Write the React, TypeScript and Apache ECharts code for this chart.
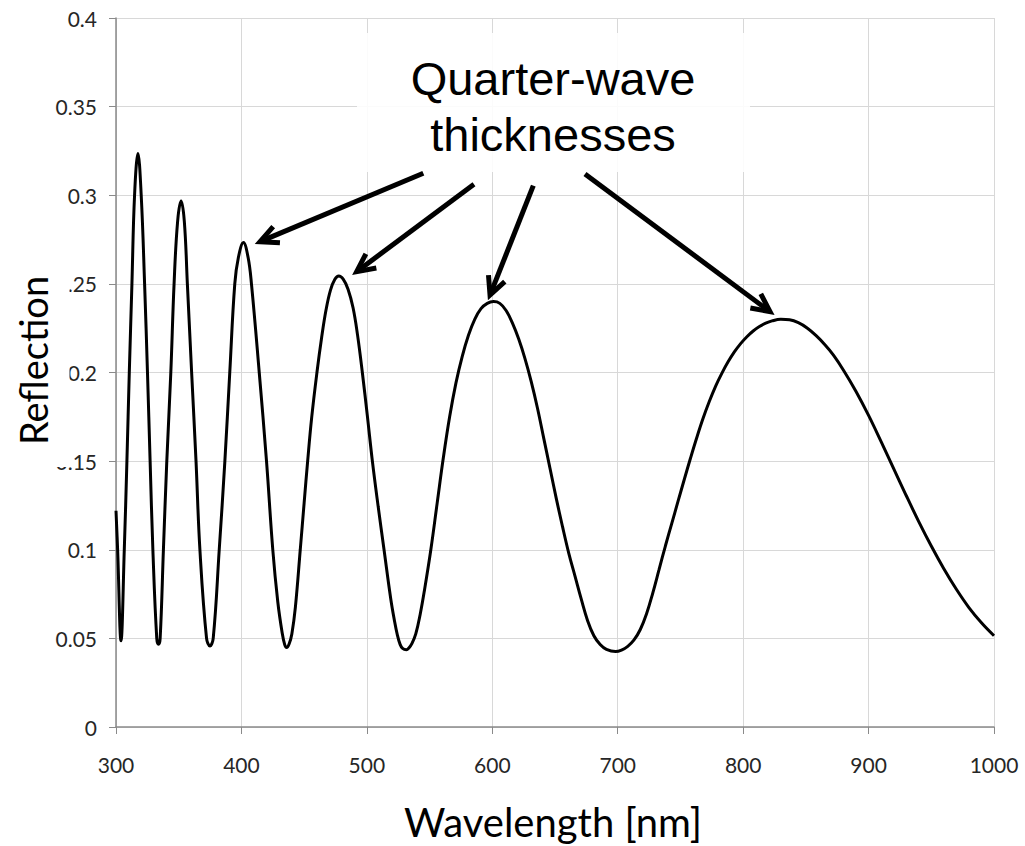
import React, { useEffect, useRef } from "react";
import * as echarts from "echarts";

// Wavelength [nm] and reflection
const wavelength = [
  300, 301.3, 304, 306.6, 308.7, 310.6, 312.7, 314.8, 317.5, 320.1, 322.8, 325.1, 327.2, 329.4, 332.5,
  333.9, 335.2, 337.8, 340.5, 343.7, 346.3, 349.1, 351.9, 354.5, 356.9, 360.3, 363.8, 366.9, 372.2,
  374.9, 377.5, 382.3, 386.8, 390.7, 394.7, 397.6, 401.6, 405.3, 408.0, 414.2, 420.0, 425.0, 429, 432.5, 434.5,
  436.0, 438, 440.2, 443, 446.9, 450, 452.8, 456, 460.2, 464, 467.5, 471, 474.5, 477.6,
  481, 485, 489, 492.5, 496.4, 500.4, 504.4, 509, 513.7, 519, 522, 524.3, 526.5, 528.5,
  531.5, 533.5, 536, 539, 542.5, 546, 551, 556, 561, 566, 571, 576, 581, 586, 591, 596, 601,
  606, 611, 616, 621, 626, 631, 636, 641, 646, 651, 656, 661, 666, 671, 676, 681, 686, 691,
  698.3, 703, 708, 713, 718, 723, 728, 733, 738, 743, 748, 753, 758, 763, 768, 773, 778,
  783, 788, 793, 798, 803, 808, 813, 818, 823, 830, 837, 844, 851, 858, 865, 872, 880,
  890, 900, 910, 920, 930, 940, 950, 960, 970, 980, 990, 1000,
];
const reflection = [
  0.122, 0.1, 0.0486, 0.1, 0.15, 0.2, 0.25, 0.3, 0.3235, 0.3, 0.25, 0.2, 0.15, 0.1, 0.05,
  0.0467, 0.05, 0.1, 0.15, 0.2, 0.25, 0.285, 0.2967, 0.285, 0.25, 0.2, 0.15, 0.1, 0.05,
  0.0457, 0.05, 0.1, 0.15, 0.2, 0.25, 0.265, 0.2733, 0.265, 0.25, 0.2, 0.15, 0.1, 0.0705, 0.053, 0.0465,
  0.0448, 0.0468, 0.0525, 0.0675, 0.1, 0.1265, 0.15, 0.1745, 0.2, 0.22, 0.2355, 0.2465, 0.2526, 0.2545,
  0.2528, 0.247, 0.2365, 0.2215, 0.2, 0.1755, 0.15, 0.1245, 0.1, 0.0725, 0.06, 0.052, 0.0466, 0.0443,
  0.0436, 0.0446, 0.0472, 0.0525, 0.0635, 0.0775, 0.1, 0.126, 0.152, 0.175, 0.194, 0.209, 0.221, 0.23, 0.236, 0.239, 0.24,
  0.239, 0.235, 0.228, 0.219, 0.208, 0.195, 0.18, 0.163, 0.146, 0.129, 0.113, 0.098, 0.085, 0.072, 0.06, 0.0515, 0.0465, 0.0438,
  0.0426, 0.0434, 0.0455, 0.0491, 0.055, 0.0639, 0.0757, 0.0889, 0.1021, 0.1146, 0.1271, 0.1395, 0.1516, 0.1632, 0.174, 0.1836, 0.1922,
  0.1995, 0.206, 0.2116, 0.2163, 0.2202, 0.2234, 0.2259, 0.2278, 0.2291, 0.23, 0.2297, 0.2281, 0.2251, 0.2209, 0.2158, 0.2098, 0.2013,
  0.1893, 0.1758, 0.161, 0.1458, 0.1306, 0.1159, 0.1021, 0.0893, 0.0777, 0.0674, 0.0588, 0.0515,
];

// Axis ranges / ticks
const xMin = 300, xMax = 1000, xStep = 100;
const yMin = 0, yMax = 0.4, yStep = 0.05;

// Annotation arrows (data coordinates): tail -> head
const arrowTails = [[545.0, 0.3124], [585.4, 0.3062], [632.7, 0.3054], [673.9, 0.312]];
const arrowHeads = [[414.8, 0.2738], [491.9, 0.2569], [598.2, 0.2437], [821.4, 0.2343]];
const annotationLines = ["Quarter-wave", "thicknesses"];
const xTitle = "Wavelength [nm]";
const yTitle = "Reflection";

export default function App() {
  const ref = useRef<HTMLDivElement>(null);
  useEffect(() => {
    const chart = echarts.init(ref.current!, null, { renderer: "svg" });
    const axisGray = "#8a8a8a";
    const gridGray = "#d8d8d8";
    const labelFont = { fontFamily: "Lato", fontSize: 21, color: "#262626" };
    chart.setOption({
      animation: false,
      grid: { left: 116, right: 31, top: 18, bottom: 119, containLabel: false },
      xAxis: {
        type: "value",
        min: xMin,
        max: xMax,
        interval: xStep,
        axisLine: { show: true, lineStyle: { color: axisGray, width: 1.5 } },
        axisTick: { show: true, length: 7, lineStyle: { color: axisGray } },
        axisLabel: { ...labelFont, margin: 27, formatter: (v: number) => String(v) },
        splitLine: { show: true, lineStyle: { color: gridGray, width: 1 } },
      },
      yAxis: {
        type: "value",
        min: yMin,
        max: yMax,
        interval: yStep,
        axisLine: { show: true, lineStyle: { color: axisGray, width: 1.5 } },
        axisTick: { show: true, length: 7, lineStyle: { color: axisGray } },
        axisLabel: { ...labelFont, margin: 19 },
        splitLine: { show: true, lineStyle: { color: gridGray, width: 1 } },
      },
      series: [
        {
          type: "line",
          data: wavelength.map((x, i) => [x, reflection[i]]),
          showSymbol: false,
          smooth: 0.4,
          lineStyle: { color: "#000", width: 3 },
          z: 3,
        },
      ],
    });

    const graphics: any[] = [];
    // Annotation box with text
    graphics.push({
      type: "rect",
      shape: { x: 357, y: 33, width: 393, height: 139 },
      style: { fill: "rgba(255,255,255,0.88)" },
      z: 50,
    });
    annotationLines.forEach((t, i) => {
      graphics.push({
        type: "text",
        x: 553,
        y: 78 + i * 56.7,
        style: {
          text: t,
          fontFamily: "Liberation Sans",
          fontSize: 47,
          fill: "#000",
          align: "center",
          verticalAlign: "middle",
        },
        z: 51,
      });
    });
    // Arrows
    const armLen = 20;
    const armAng = (26 * Math.PI) / 180;
    arrowTails.forEach((tail, i) => {
      const p0 = chart.convertToPixel({ gridIndex: 0 }, tail) as number[];
      const p1 = chart.convertToPixel({ gridIndex: 0 }, arrowHeads[i]) as number[];
      const dx = p0[0] - p1[0];
      const dy = p0[1] - p1[1];
      const len = Math.hypot(dx, dy);
      const ux = dx / len, uy = dy / len;
      const rot = (a: number) => [
        p1[0] + armLen * (ux * Math.cos(a) - uy * Math.sin(a)),
        p1[1] + armLen * (ux * Math.sin(a) + uy * Math.cos(a)),
      ];
      graphics.push({
        type: "line",
        shape: { x1: p0[0], y1: p0[1], x2: p1[0] + ux * 2, y2: p1[1] + uy * 2 },
        style: { stroke: "#000", lineWidth: 5 },
        z: 52,
      });
      graphics.push({
        type: "polyline",
        shape: { points: [rot(armAng), [p1[0], p1[1]], rot(-armAng)] },
        style: { stroke: "#000", lineWidth: 5, fill: null, lineJoin: "miter" },
        z: 52,
      });
    });
    // Axis titles
    graphics.push({
      type: "text",
      x: 553,
      y: 822,
      style: {
        text: xTitle,
        fontFamily: "Lato",
        fontSize: 40,
        fill: "#000",
        align: "center",
        verticalAlign: "middle",
      },
      z: 60,
    });
    graphics.push({
      type: "text",
      x: 32.5,
      y: 362.5,
      rotation: Math.PI / 2,
      style: {
        text: yTitle,
        fontFamily: "Lato",
        fontSize: 38,
        fill: "#000",
        align: "center",
        verticalAlign: "middle",
        backgroundColor: "#fff",
        padding: [12, 18, 24, 22],
      },
      z: 60,
    });
    chart.setOption({ graphic: graphics });

    return () => chart.dispose();
  }, []);

  return (
    <div
      ref={ref}
      style={{ position: "fixed", left: 0, top: 0, width: 1025, height: 846, background: "#fff" }}
    />
  );
}
